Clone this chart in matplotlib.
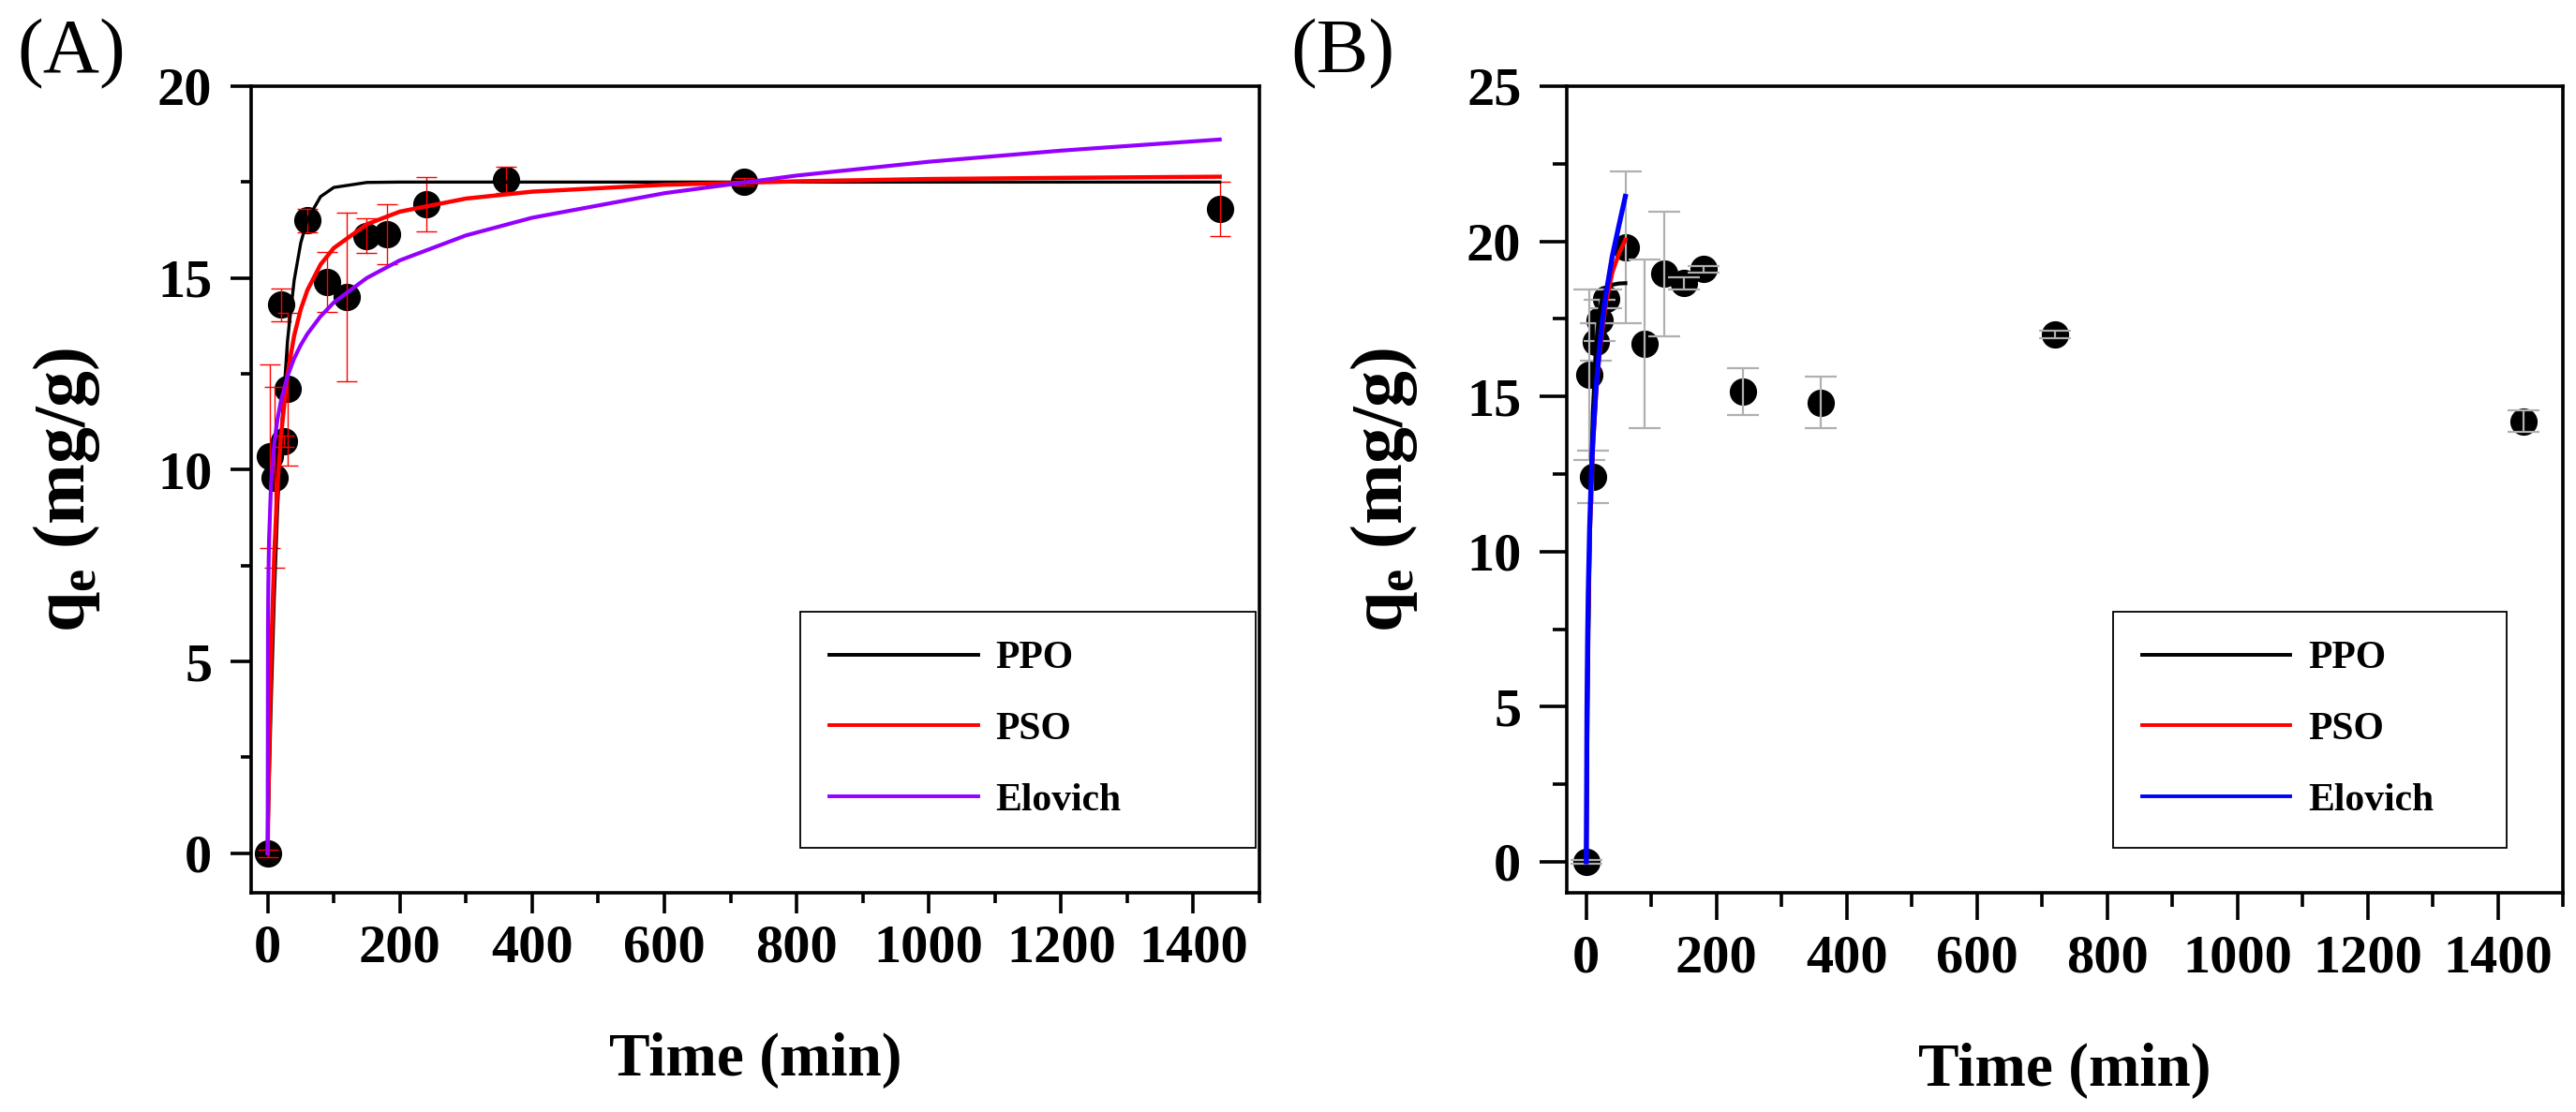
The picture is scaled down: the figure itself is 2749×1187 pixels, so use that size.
import matplotlib
matplotlib.use('Agg')
import matplotlib.pyplot as plt
from matplotlib.ticker import MultipleLocator

plt.rcParams['font.family'] = ['Liberation Serif', 'DejaVu Serif']
plt.rcParams['font.weight'] = 'bold'
plt.rcParams['mathtext.fontset'] = 'custom'
plt.rcParams['mathtext.rm'] = 'Liberation Serif:bold'
plt.rcParams['mathtext.bf'] = 'Liberation Serif:bold'

# ---- panel A : measured points ----
time_a = [0, 3, 10, 20, 25, 30, 60, 90, 120, 150, 180, 240, 360, 720, 1440]
qe_a = [0, 10.35, 9.8, 14.3, 10.75, 12.1, 16.5, 14.9, 14.5, 16.1, 16.15, 16.92, 17.55, 17.5, 16.8]
err_a = [0.1, 2.4, 2.35, 0.43, 0.15, 2.0, 0.3, 0.78, 2.2, 0.45, 0.78, 0.71, 0.34, 0.1, 0.7]

# ---- panel A : fitted curves ----
fit_time_a = [0, 0.5, 1, 2, 5, 10, 15, 20, 30, 40, 50, 60, 80, 100, 150, 200,
              300, 400, 600, 800, 1000, 1200, 1440]
ppo_a = [0, 0.41, 0.82, 1.6, 3.73, 6.67, 8.98, 10.8, 13.36, 14.93, 15.91, 16.52,
         17.12, 17.36, 17.49, 17.5, 17.5, 17.5, 17.5, 17.5, 17.5, 17.5, 17.5]
pso_a = [0, 0.67, 1.29, 2.41, 5.01, 7.82, 9.62, 10.86, 12.49, 13.49, 14.18, 14.68,
         15.35, 15.78, 16.4, 16.73, 17.07, 17.25, 17.43, 17.52, 17.58, 17.61, 17.64]
elovich_a = [0, 5.95, 7.03, 8.13, 9.58, 10.69, 11.33, 11.79, 12.44, 12.9, 13.25, 13.54,
             14.0, 14.36, 15.0, 15.46, 16.11, 16.57, 17.21, 17.67, 18.03, 18.32, 18.61]

# ---- panel B : measured points ----
time_b = [0, 5, 10, 15, 20, 30, 60, 90, 120, 150, 180, 240, 360, 720, 1440]
qe_b = [0, 15.7, 12.4, 16.75, 17.45, 18.15, 19.8, 16.7, 18.95, 18.65, 19.1, 15.15, 14.8, 17.0, 14.2]
err_b = [0.05, 2.75, 0.85, 0.6, 0.65, 0.3, 2.45, 2.72, 2.0, 0.2, 0.1, 0.75, 0.83, 0.12, 0.35]

# ---- panel B : fitted curves ----
fit_time_b = [0, 1, 2, 3, 5, 7, 10, 15, 20, 25, 30, 40, 50, 60]
ppo_b = [0, 2.6, 4.83, 6.76, 9.85, 12.12, 14.49, 16.69, 17.72, 18.21, 18.44, 18.6, 18.64, 18.65]
pso_b = [0, 4.2, 6.5, 8.0, 10.2, 11.7, 13.3, 15.1, 16.3, 17.2, 18.0, 19.0, 19.6, 20.05]
elovich_b = [0, 4.93, 7.2, 8.69, 10.7, 12.07, 13.56, 15.28, 16.52, 17.49, 18.28, 19.53, 20.5, 21.45]

legend_labels = ['PPO', 'PSO', 'Elovich']

W, H = 2749, 1187
fig = plt.figure(figsize=(W / 100, H / 100), dpi=100)

ax_a = fig.add_axes([268 / W, 1 - 953 / H, (1344 - 268) / W, (953 - 92) / H])
ax_b = fig.add_axes([1672 / W, 1 - 953 / H, (2735 - 1672) / W, (953 - 92) / H])


def style_axes(ax, ylo, ymax, ystep, major_len, minor_len, xpad):
    for sp in ax.spines.values():
        sp.set_linewidth(2.6)
    ax.set_ylim(ylo, ymax)
    ax.xaxis.set_major_locator(MultipleLocator(200))
    ax.xaxis.set_minor_locator(MultipleLocator(100))
    ax.yaxis.set_major_locator(MultipleLocator(ystep))
    ax.yaxis.set_minor_locator(MultipleLocator(ystep / 2))
    ax.tick_params(which='both', direction='out', top=False, right=False, width=2.6)
    ax.tick_params(which='major', length=major_len, labelsize=42)
    ax.tick_params(which='minor', length=minor_len)
    ax.tick_params(axis='x', which='major', pad=xpad)
    ax.tick_params(axis='y', which='major', pad=14)
    for lab in ax.get_xticklabels() + ax.get_yticklabels():
        lab.set_fontweight('bold')
    ax.set_xlabel('Time (min)', fontsize=47, fontweight='bold', labelpad=46)
    ax.set_ylabel('q$_{\\rm e}$ (mg/g)', fontsize=56, fontweight='bold')
    ax.yaxis.set_label_coords(-0.148, 0.5)


def draw_panel(ax, t, q, err, ecolor, elw, cap, ft, curves, colors, widths):
    ax.plot(t, q, 'o', color='black', ms=20, zorder=2, clip_on=False)
    ax.errorbar(t, q, yerr=err, fmt='none', ecolor=ecolor, elinewidth=elw,
                capsize=cap, capthick=elw, zorder=3)
    handles = []
    for ys, c, lw in zip(curves, colors, widths):
        h, = ax.plot(ft, ys, color=c, lw=lw, zorder=4)
        handles.append(h)
    return handles


h_a = draw_panel(ax_a, time_a, qe_a, err_a, 'red', 1.0, 8,
                 fit_time_a, [ppo_a, pso_a, elovich_a],
                 ['black', 'red', '#9400ff'], [2.4, 3.2, 3.0])
style_axes(ax_a, -1.03, 20, 5, 16, 8, 8)
ax_a.set_xlim(-25, 1500)

h_b = draw_panel(ax_b, time_b, qe_b, err_b, '#b0b0b0', 1.6, 12,
                 fit_time_b, [ppo_b, pso_b, elovich_b],
                 ['black', 'red', 'blue'], [3.0, 3.2, 3.8])
style_axes(ax_b, -1.0, 25, 5, 21, 11, 11)
ax_b.set_xlim(-30, 1500)

for ax, hs, box in [(ax_a, h_a, (0.5446, 0.056, 0.452, 0.28)),
                    (ax_b, h_b, (0.548, 0.056, 0.396, 0.28))]:
    leg_lines = [plt.Line2D([], [], color=h.get_color(), lw=2.8) for h in hs]
    leg = ax.legend(leg_lines, legend_labels, loc='lower left', bbox_to_anchor=box,
                    mode='expand', fancybox=False, framealpha=1, edgecolor='black',
                    prop={'family': 'Liberation Serif', 'weight': 'bold', 'size': 30},
                    handlelength=3.8, handletextpad=0.45, labelspacing=0.9,
                    borderpad=0.75, borderaxespad=0)
    leg.get_frame().set_linewidth(1.3)

fig.text(18 / W, 1 - 20 / H, '(A)', fontsize=60, fontweight='normal', va='top', ha='left')
fig.text(1377 / W, 1 - 20 / H, '(B)', fontsize=60, fontweight='normal', va='top', ha='left')

fig.savefig('out.png', dpi=100)
